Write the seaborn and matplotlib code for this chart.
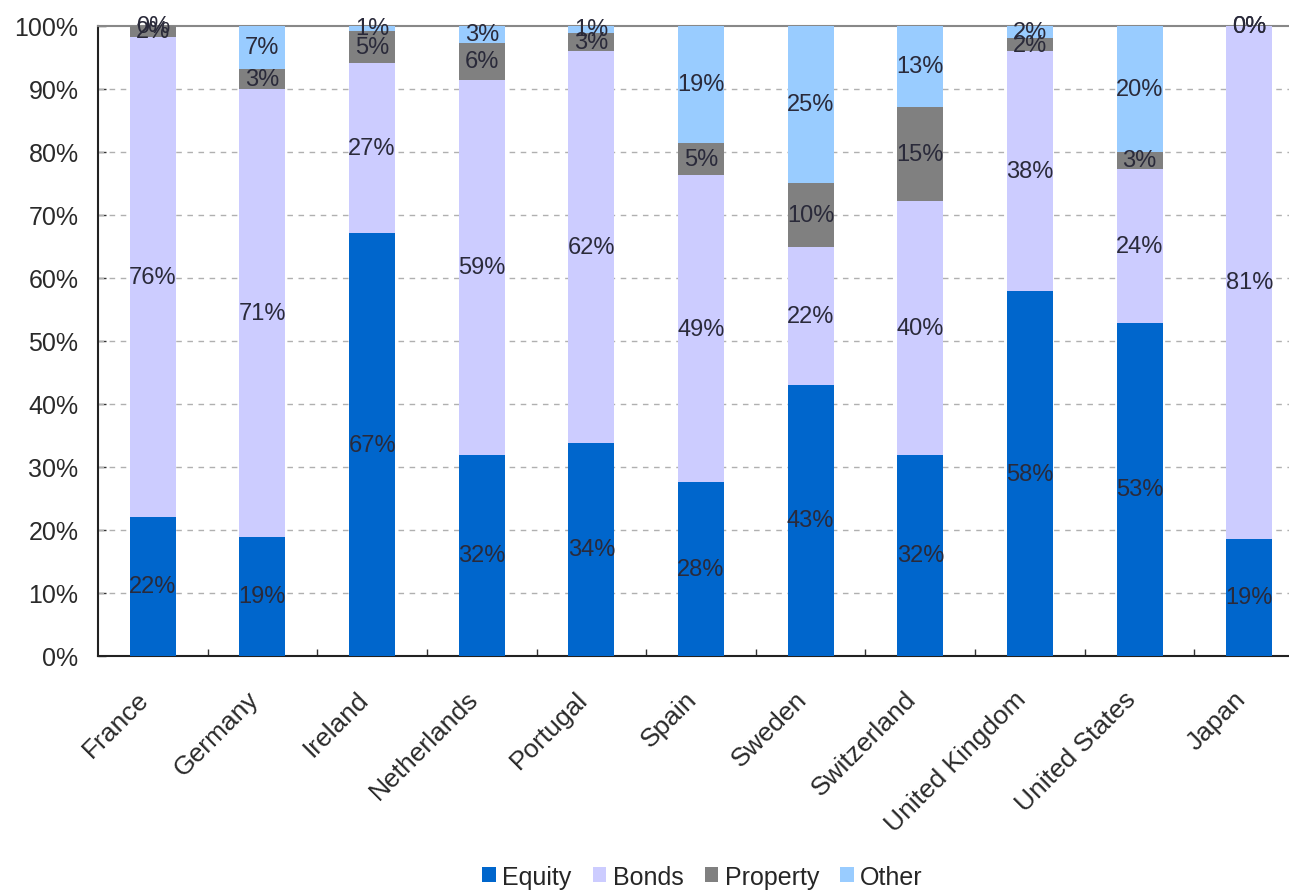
import matplotlib
matplotlib.use("Agg")
import matplotlib.pyplot as plt
import seaborn as sns
import numpy as np
from matplotlib.patches import Patch
from matplotlib.ticker import FixedLocator
from matplotlib.transforms import ScaledTranslation

countries = ["France", "Germany", "Ireland", "Netherlands", "Portugal", "Spain",
             "Sweden", "Switzerland", "United Kingdom", "United States", "Japan"]
equity   = [22.1, 18.9, 67.1, 31.9, 33.8, 27.6, 43.0, 31.9, 57.9, 52.9, 18.6]
bonds    = [76.2, 71.1, 27.0, 59.5, 62.2, 48.7, 21.9, 40.3, 38.1, 24.4, 81.4]
property_ = [1.7, 3.2, 5.1, 5.9, 2.9, 5.1, 10.2, 14.9, 2.0, 2.7, 0.0]
other    = [0.0, 6.8, 0.8, 2.7, 1.1, 18.6, 24.9, 12.9, 2.0, 20.0, 0.0]

series_names = ["Equity", "Bonds", "Property", "Other"]
series_vals = [equity, bonds, property_, other]
colors = ["#0066CC", "#CCCCFF", "#808080", "#99CCFF"]

sns.set_theme(style="white")
plt.rcParams['font.family'] = ['Liberation Sans', 'DejaVu Sans']

fig = plt.figure(figsize=(12.89, 8.95), dpi=100)
ax = fig.add_axes([0.076, 0.266, 0.9357, 0.704])

bottoms = np.zeros(len(countries))
for name, vals, col in zip(series_names, series_vals, colors):
    sns.barplot(x=countries, y=vals, bottom=bottoms, color=col, width=0.42,
                ax=ax, saturation=1, linewidth=0, zorder=3)
    bottoms = np.round(bottoms + np.array(vals), 6)

for cont in ax.containers:
    ax.bar_label(cont, labels=[f"{v:.0f}%" for v in cont.datavalues],
                 label_type="center", fontsize=17, color="#2a2a3a", zorder=5,
                 annotation_clip=False)

ax.set_xlim(-0.5, len(countries) - 0.5)
ax.set_ylim(0, 100)
ax.set_yticks(np.arange(0, 101, 10))
ax.set_yticklabels([f"{t}%" for t in range(0, 101, 10)], fontsize=18, color="#2a2a2a")
ax.set_xticks(range(len(countries)))
ax.set_xticklabels(countries, rotation=45, ha="right", rotation_mode="anchor",
                   fontsize=19, color="#2a2a2a")
ax.tick_params(axis="x", length=0, pad=14)
offset = ScaledTranslation(-0.16, -0.11, fig.dpi_scale_trans)
for lbl in ax.get_xticklabels():
    lbl.set_transform(lbl.get_transform() + offset)
ax.xaxis.set_minor_locator(FixedLocator(np.arange(0.5, len(countries) - 0.5, 1)))
ax.tick_params(axis="x", which="minor", direction="in", length=5, width=1, color="#333333", bottom=True)
ax.tick_params(axis="y", direction="in", length=6, width=1, color="#333333", left=True, pad=14)

for y in range(10, 100, 10):
    ax.axhline(y, color="#B0B0B0", linestyle=(0, (4, 4)), linewidth=1, zorder=1)

ax.set_xlabel("")
ax.set_ylabel("")
for s in ["left", "bottom"]:
    ax.spines[s].set_visible(True)
    ax.spines[s].set_color("#222222")
    ax.spines[s].set_linewidth(1.5)
ax.spines["top"].set_visible(True)
ax.spines["top"].set_color("#888888")
ax.spines["top"].set_linewidth(1.5)
ax.spines["right"].set_visible(False)

handles = [Patch(facecolor=c, edgecolor="none", label=n) for n, c in zip(series_names, colors)]
fig.legend(handles=handles, loc="lower center", bbox_to_anchor=(0.545, -0.019), ncol=4,
           frameon=False, fontsize=18, handlelength=0.55, handleheight=0.55,
           handletextpad=0.25, columnspacing=0.85)

fig.savefig("out.png", dpi=100)
